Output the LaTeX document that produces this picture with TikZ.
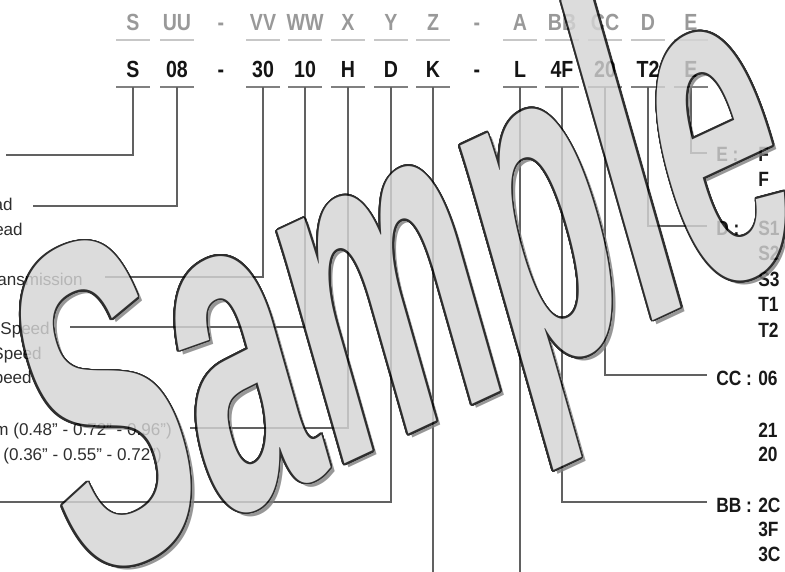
\documentclass[tikz,border=0pt]{standalone}
\usepackage{fontspec}
\setmainfont{Liberation Sans}
\newfontfamily\codefont{Liberation Sans}[FakeStretch=0.84]
\newfontfamily\wmfont{Liberation Sans}[FakeStretch=0.5]
\usepackage{contour}
\contourlength{1.3pt}
\contournumber{32}

\tikzset{
  codetop/.style={anchor=base,inner sep=0pt,font=\codefont\bfseries\fontsize{17.5}{20}\selectfont,text=black!40},
  codebot/.style={anchor=base,inner sep=0pt,font=\codefont\bfseries\fontsize{17.5}{20}\selectfont,text=black!92},
  topbar/.style={draw=black!22,line width=1.5pt},
  botbar/.style={draw=black!50,line width=1.5pt},
  conn/.style={draw=black!62,line width=1pt},
  leftlbl/.style={anchor=base east,inner sep=0pt,font=\fontsize{12.8}{15}\selectfont,text=black!82},
  rightkey/.style={anchor=base west,inner sep=0pt,font=\codefont\bfseries\fontsize{15.5}{18}\selectfont,text=black!90},
  rightval/.style={anchor=base west,inner sep=0pt,font=\codefont\bfseries\fontsize{15.5}{18}\selectfont,text=black!90},
  wmark/.style={anchor=base west,inner sep=0pt,rotate=25,xslant=0.16,font=\wmfont\bfseries\fontsize{340}{340}\selectfont}
}

\begin{document}
\begin{tikzpicture}[x=0.75pt,y=-0.75pt]
    \useasboundingbox (0,0) rectangle (785,571);
    \clip (0,0) rectangle (785,571);
    % code fields
    \foreach \x/\t/\b/\n in {133/S/S/S,177/UU/08/UU,263/VV/30/VV,305/WW/10/WW,348/X/H/X,391/Y/D/Y,433/Z/K/Z,520/A/L/A,562/BB/4F/BB,605/CC/20/CC,648/D/T2/D,691/E/E/E}{
      \node[codetop] (t-\n) at (\x,30) {\t};
      \draw[topbar] (\x-17,40) -- (\x+17,40);
      \node[codebot] (v-\n) at (\x,77) {\b};
      \draw[botbar] (\x-17,87) -- (\x+17,87);
      \coordinate (p-\n) at (\x,87);
    }
    \node[codetop] (t-d1) at (221,30) {-};
    \node[codetop] (t-d2) at (477,30) {-};
    \node[codebot] (v-d1) at (221,77) {-};
    \node[codebot] (v-d2) at (477,77) {-};
    % left side
    \node[leftlbl] (l-UU1) at (13,210) {ad};
    \node[leftlbl] (l-UU2) at (23,235) {ead};
    \node[leftlbl] (l-VV) at (83,285) {ansmission};
    \node[leftlbl] (l-WW1) at (50,334) {Speed};
    \node[leftlbl] (l-WW2) at (42,359) {Speed};
    \node[leftlbl] (l-WW3) at (32,383) {peed};
    \node[leftlbl] (l-X1) at (172,435) {m (0.48" - 0.72" - 0.96")};
    \node[leftlbl] (l-X2) at (162,460) {(0.36" - 0.55" - 0.72")};
    \coordinate (j-S) at (6,155);
    \coordinate (j-UU) at (33,206);
    \coordinate (j-VV) at (105,277);
    \coordinate (j-WW) at (70,327);
    \coordinate (j-X) at (190,428);
    \coordinate (j-Y) at (0,502);
    \coordinate (j-Z) at (433,575);
    \coordinate (j-A) at (520,575);
    \foreach \n in {S,UU,VV,WW,X,Y}{
      \draw[conn] (p-\n) |- (j-\n);
    }
    \draw[conn] (p-Z) -- (j-Z);
    \draw[conn] (p-A) -- (j-A);
    % right side
    \node[rightkey] (k-E) at (716,161) {E :};
    \node[rightval] (o-E1) at (758,161) {F};
    \node[rightval] (o-E2) at (758,186) {F};
    \node[rightkey] (k-D) at (716,235) {D :};
    \foreach \v [count=\i from 0] in {S1,S2,S3,T1,T2}{
      \node[rightval] (o-D\i) at (758,235+25.5*\i) {\v};
    }
    \node[rightkey] (k-CC) at (716,385) {CC :};
    \node[rightval] (o-CC1) at (758,385) {06};
    \node[rightval] (o-CC2) at (758,437) {21};
    \node[rightval] (o-CC3) at (758,461) {20};
    \node[rightkey] (k-BB) at (716,512) {BB :};
    \node[rightval] (o-BB1) at (758,512) {2C};
    \node[rightval] (o-BB2) at (758,536) {3F};
    \node[rightval] (o-BB3) at (758,561) {3C};
    \coordinate (j-E) at (707,153);
    \coordinate (j-D) at (707,226);
    \coordinate (j-CC) at (707,375);
    \coordinate (j-BB) at (707,502);
    \foreach \n in {E,D,CC,BB}{
      \draw[conn] (p-\n) |- (j-\n);
    }
    % watermark
    \begin{scope}[transparency group,opacity=0.82]
      \node[wmark,text=black!50] (wm-shadow) at (83,592) {Sample};
      \node[wmark,text=black!17] (wm) at (79,588) {\contour{black}{Sample}};
    \end{scope}
\end{tikzpicture}
\end{document}
